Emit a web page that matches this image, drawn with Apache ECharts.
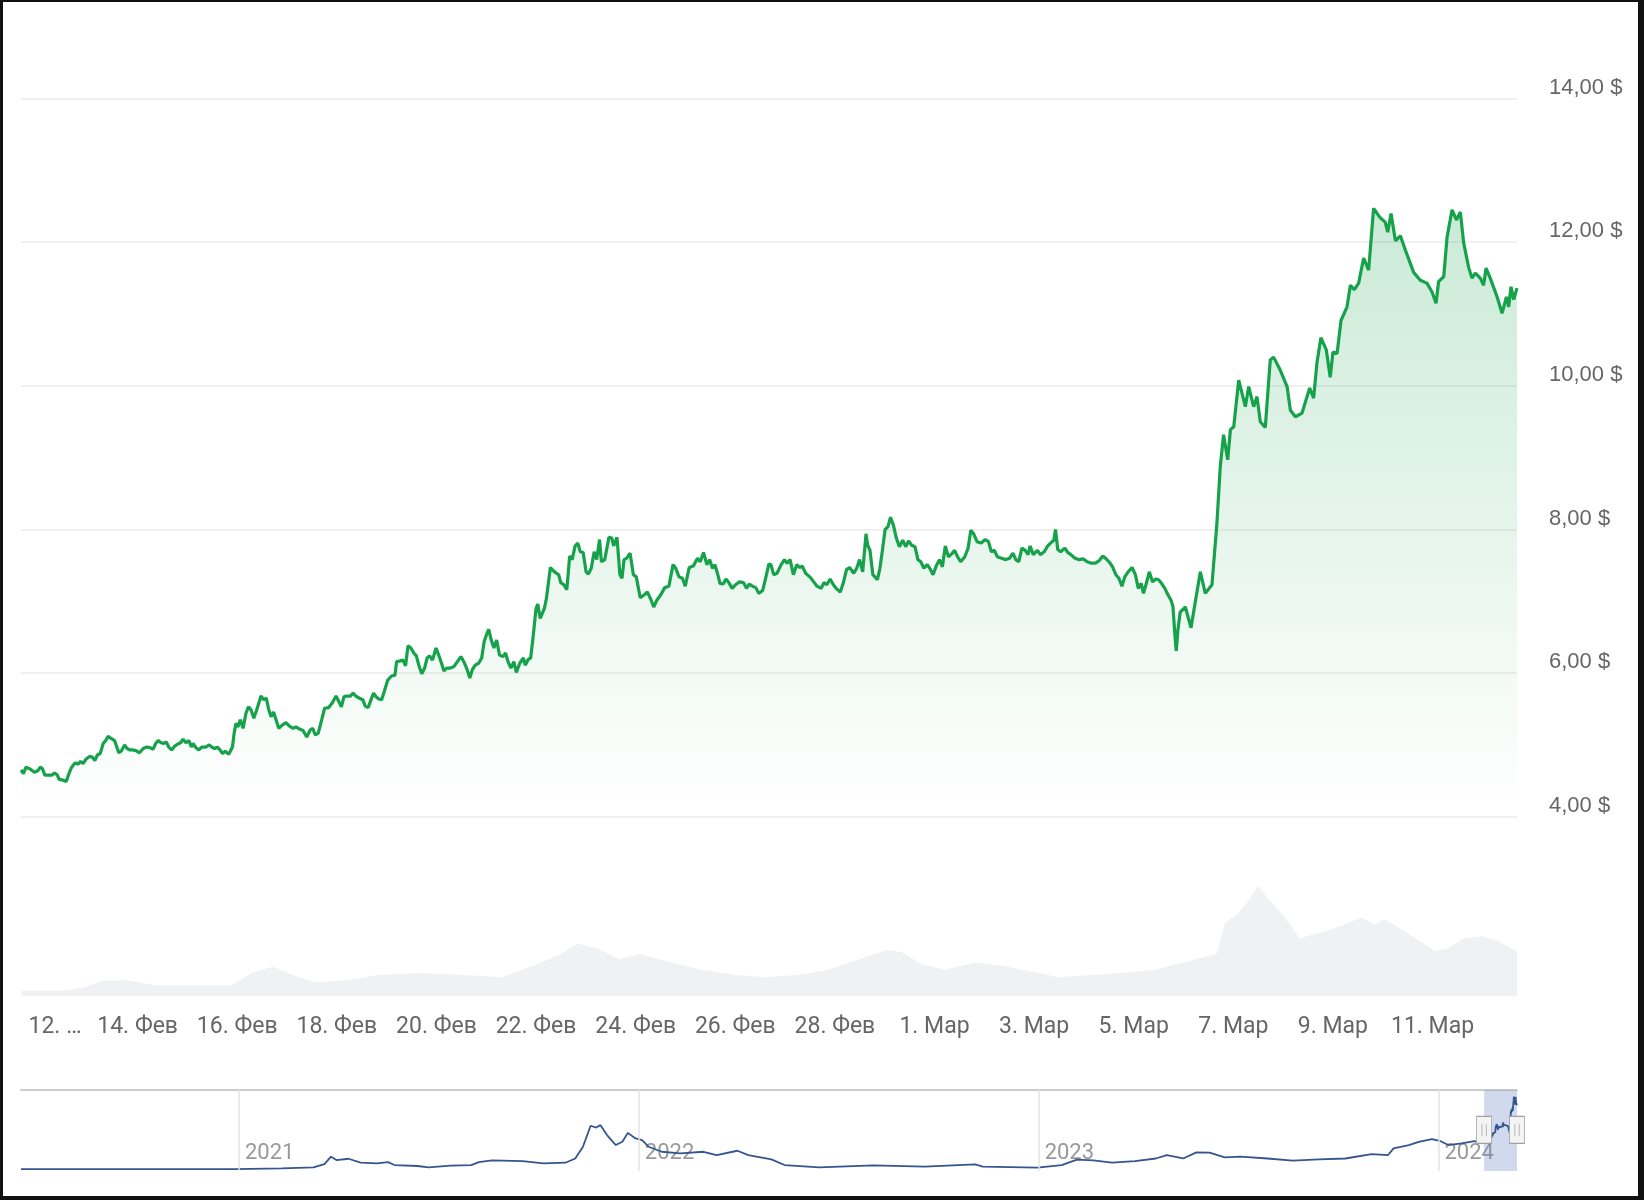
<!DOCTYPE html>
<html>
<head>
<meta charset="utf-8">
<style>
  html, body { margin: 0; padding: 0; background: #fff; }
  #chart { position: absolute; left: 0; top: 0; width: 1644px; height: 1200px; }
  #frame { position: absolute; left: 0; top: 0; width: 1644px; height: 1200px; box-sizing: border-box;
    border-style: solid; border-color: #111; border-width: 2px 6px 4px 3px; pointer-events: none; }
</style>
<script src="https://cdn.jsdelivr.net/npm/echarts@6/dist/echarts.min.js"></script>
</head>
<body>
<div id="chart"></div>
<div id="frame"></div>
<script>
// hours counted from 12 Feb 2024 00:00
var priceHours = [
  -8.2, -7.0, -5.8, -3.6, -1.8, -0.1, 1.1, 2.1, 3.3, 5.0,
  6.8, 8.0, 9.3, 10.2, 11.9, 13.6, 14.9, 16.2, 17.9, 19.3,
  20.5, 21.7, 23.1, 24.8, 26.2, 27.4, 28.6, 30.0, 31.4, 32.6,
  33.8, 35.2, 36.9, 37.7, 38.9, 40.3, 41.7, 42.9, 44.1, 45.5,
  47.2, 48.9, 50.7, 52.4, 54.1, 55.5, 56.7, 57.9, 59.3, 60.6,
  61.8, 63.0, 64.4, 65.8, 67.2, 68.7, 69.9, 71.3, 72.7, 73.9,
  74.7, 76.1, 77.5, 79.0, 80.8, 82.5, 83.7, 85.1, 86.4, 87.7,
  88.9, 90.2, 91.9, 93.7, 94.5, 95.4, 96.3, 97.5, 98.8, 100.2,
  101.4, 102.6, 104.0, 105.4, 106.6, 107.4, 108.8, 110.0, 111.2, 112.3,
  113.5, 114.7, 116.0, 117.8, 119.5, 121.2, 122.9, 124.3, 126.0, 127.7,
  129.5, 131.2, 132.4, 133.6, 135.0, 136.7, 138.1, 140.1, 141.9, 143.6,
  145.0, 146.2, 147.4, 148.8, 150.5, 151.8, 153.2, 154.8, 156.5, 157.7,
  159.1, 160.5, 161.7, 162.9, 164.2, 165.6, 166.8, 168.5, 170.3, 172.0,
  172.8, 174.6, 175.9, 177.1, 178.3, 179.7, 181.1, 182.3, 183.5, 184.9,
  186.3, 187.5, 188.7, 190.1, 191.8, 193.2, 194.4, 195.6, 196.9, 198.7,
  200.4, 202.1, 203.8, 205.5, 206.9, 208.1, 209.3, 210.7, 212.4, 213.8,
  215.0, 216.2, 217.2, 218.4, 219.7, 221.0, 222.4, 224.1, 225.3, 226.5,
  227.9, 229.3, 230.5, 232.2, 233.9, 234.8, 236.2, 237.4, 238.6, 240.0,
  240.8,
  242.0, 244.0, 245.0, 246.9, 248.9, 250.9, 251.9, 253.4, 254.8, 256.2,
  257.4, 258.8, 260.1, 261.3, 262.7, 264.1, 265.2, 266.6, 268.0, 269.2,
  270.6, 271.5, 273.1, 275.1, 276.5, 277.4, 279.0, 280.4, 281.4, 282.4,
  283.7, 285.3, 286.9, 288.3, 290.2, 292.2, 293.6, 295.1, 296.7, 298.1,
  300.1, 302.0, 304.0, 306.0, 307.3, 308.9, 310.5, 311.9, 313.8, 315.8,
  317.8, 319.1, 320.7, 322.3, 323.7, 325.0, 326.2, 327.6, 328.6, 330.2,
  331.5, 332.9, 334.5, 336.1, 338.0, 340.0, 341.4, 342.7, 344.3, 345.9,
  347.3, 349.2, 350.6, 352.2, 353.2, 354.5, 356.1, 358.1, 359.7, 361.0,
  362.4, 364.0, 365.6, 366.9, 368.3, 369.9, 371.9, 373.8, 375.4, 377.4,
  378.7, 380.1, 381.7, 383.3, 384.6, 386.6, 388.0, 389.6, 391.1, 393.1,
  394.5, 395.9, 397.4, 399.0, 399.8, 400.9, 402.3, 403.3, 404.5, 405.7,
  406.9, 408.2, 409.6, 410.8, 412.2, 413.6, 415.1, 416.7, 418.1, 419.5,
  421.0, 422.6, 424.0, 425.4, 426.9, 428.5, 429.9, 431.3, 432.8, 434.4,
  435.8, 437.2, 438.7, 440.3, 441.7, 443.1, 444.6, 446.6, 448.2, 449.5,
  450.9, 452.5, 454.5, 456.4, 458.0, 459.4, 460.8, 462.3, 464.3, 466.3,
  468.2, 469.8, 471.2, 472.6, 474.1, 475.7, 477.1, 478.1, 479.6, 481.6,
  483.0, 484.9, 486.3, 487.9, 489.5, 490.3, 491.4, 492.8, 494.8, 496.2,
  497.7, 499.7, 501.7, 503.6, 505.6, 507.6, 509.5, 511.5, 513.1, 514.4,
  516.4, 517.8, 519.4, 520.9, 522.3, 523.7, 525.3, 527.2, 528.8, 530.2,
  531.6, 532.7, 534.1, 535.5, 537.1, 538.6, 540.0, 541.4, 543.0, 544.5,
  545.9, 546.9, 547.9, 548.5, 549.3, 550.4,
  552.9, 555.6, 560.1, 562.5, 565.7, 568.1, 569.7, 571.3, 573.3, 574.6,
  576.2, 578.6, 581.8, 583.4, 585.8, 587.4, 589.0, 591.4, 593.8, 595.4,
  598.6, 601.9, 603.5, 605.9, 609.1, 612.8, 614.7, 616.3, 618.2, 620.8,
  622.7, 624.0, 626.0, 627.9, 630.8, 632.4, 634.3, 636.4, 638.8, 641.2,
  643.6, 646.8, 649.2, 650.4, 652.0, 654.1, 656.5, 658.9, 662.9, 666.1,
  669.3, 671.7, 673.7, 674.9, 677.4, 679.0, 681.4, 683.5, 685.4, 687.0,
  689.4, 691.0, 692.6, 695.0, 696.6, 697.8, 699.8, 703.1, 705.5, 707.6,
  708.7, 709.8, 711.1, 712.7
];
var prices = [
  4.65, 4.60, 4.69, 4.66, 4.62, 4.64, 4.69, 4.67, 4.58, 4.58,
  4.58, 4.61, 4.58, 4.52, 4.51, 4.49, 4.60, 4.69, 4.75, 4.73,
  4.77, 4.74, 4.80, 4.84, 4.83, 4.78, 4.86, 4.88, 5.02, 5.06,
  5.12, 5.09, 5.06, 5.04, 4.89, 4.92, 5.00, 4.95, 4.93, 4.93,
  4.92, 4.89, 4.95, 4.97, 4.96, 4.94, 5.02, 5.06, 5.03, 5.02,
  5.04, 4.97, 4.93, 4.98, 5.01, 5.03, 5.08, 5.03, 5.06, 4.97,
  5.02, 4.96, 4.93, 4.97, 4.97, 5.00, 4.97, 4.95, 4.97, 4.93,
  4.88, 4.91, 4.87, 4.97, 5.16, 5.30, 5.25, 5.35, 5.23, 5.44,
  5.53, 5.49, 5.37, 5.49, 5.60, 5.68, 5.63, 5.65, 5.49, 5.39,
  5.46, 5.35, 5.23, 5.28, 5.31, 5.26, 5.23, 5.25, 5.22, 5.20,
  5.11, 5.21, 5.23, 5.14, 5.16, 5.35, 5.51, 5.52, 5.59, 5.68,
  5.60, 5.53, 5.67, 5.68, 5.68, 5.72, 5.68, 5.65, 5.63, 5.54,
  5.52, 5.63, 5.72, 5.67, 5.64, 5.63, 5.74, 5.90, 5.96, 5.97,
  6.16, 6.17, 6.18, 6.10, 6.38, 6.35, 6.28, 6.24, 6.11, 5.99,
  6.07, 6.21, 6.24, 6.18, 6.35, 6.24, 6.14, 6.03, 6.07, 6.07,
  6.09, 6.16, 6.23, 6.14, 6.04, 5.93, 6.05, 6.11, 6.14, 6.21,
  6.44, 6.54, 6.61, 6.46, 6.35, 6.46, 6.25, 6.23, 6.28, 6.16,
  6.07, 6.16, 6.01, 6.14, 6.21, 6.11, 6.19, 6.21, 6.51, 6.90,
  6.96,
  6.76, 6.90, 7.04, 7.47, 7.41, 7.37, 7.26, 7.23, 7.16, 7.63,
  7.58, 7.77, 7.81, 7.69, 7.68, 7.41, 7.38, 7.46, 7.69, 7.58,
  7.86, 7.55, 7.58, 7.89, 7.88, 7.77, 7.89, 7.37, 7.32, 7.58,
  7.60, 7.67, 7.37, 7.34, 7.05, 7.09, 7.13, 7.04, 6.92, 7.01,
  7.09, 7.19, 7.21, 7.51, 7.46, 7.34, 7.32, 7.21, 7.47, 7.49,
  7.60, 7.55, 7.68, 7.51, 7.58, 7.46, 7.51, 7.37, 7.25, 7.24,
  7.31, 7.26, 7.18, 7.23, 7.27, 7.26, 7.18, 7.24, 7.21, 7.19,
  7.11, 7.15, 7.32, 7.52, 7.51, 7.37, 7.39, 7.51, 7.58, 7.53,
  7.58, 7.37, 7.51, 7.47, 7.49, 7.39, 7.34, 7.27, 7.21, 7.18,
  7.26, 7.23, 7.31, 7.23, 7.18, 7.13, 7.25, 7.44, 7.47, 7.39,
  7.46, 7.58, 7.41, 7.94, 7.78, 7.71, 7.37, 7.34, 7.30, 7.46,
  7.71, 8.00, 8.04, 8.17, 8.06, 7.88, 7.76, 7.85, 7.76, 7.84,
  7.78, 7.76, 7.58, 7.55, 7.46, 7.51, 7.45, 7.37, 7.49, 7.58,
  7.48, 7.77, 7.62, 7.66, 7.71, 7.62, 7.55, 7.62, 7.74, 7.99,
  7.94, 7.83, 7.81, 7.86, 7.83, 7.69, 7.71, 7.62, 7.60, 7.58,
  7.60, 7.67, 7.58, 7.55, 7.74, 7.71, 7.65, 7.77, 7.65, 7.71,
  7.65, 7.69, 7.76, 7.81, 7.85, 8.00, 7.72, 7.69, 7.74, 7.68,
  7.65, 7.60, 7.58, 7.59, 7.55, 7.53, 7.53, 7.57, 7.63, 7.60,
  7.54, 7.48, 7.37, 7.32, 7.21, 7.34, 7.41, 7.47, 7.37, 7.18,
  7.25, 7.11, 7.25, 7.41, 7.27, 7.31, 7.30, 7.25, 7.18, 7.09,
  7.02, 6.93, 6.51, 6.31, 6.60, 6.85,
  6.92, 6.63, 7.41, 7.11, 7.23, 8.09, 8.87, 9.32, 8.97, 9.39,
  9.43, 10.08, 9.71, 9.99, 9.71, 9.85, 9.50, 9.42, 10.36, 10.40,
  10.22, 9.99, 9.66, 9.57, 9.62, 9.97, 9.83, 10.32, 10.67, 10.50,
  10.12, 10.47, 10.45, 10.91, 11.10, 11.40, 11.34, 11.43, 11.78, 11.61,
  12.47, 12.34, 12.28, 12.14, 12.40, 12.02, 12.09, 11.89, 11.58, 11.47,
  11.43, 11.31, 11.15, 11.45, 11.52, 12.07, 12.45, 12.31, 12.42, 11.99,
  11.65, 11.50, 11.57, 11.50, 11.40, 11.64, 11.50, 11.24, 11.01, 11.24,
  11.10, 11.38, 11.20, 11.36
];

// trading volume (relative units)
var volumeHours = [
  -8, 12, 22, 32, 42, 58, 93, 103, 113, 123,
  133, 149, 164, 184, 204, 224, 240, 252, 260, 270,
  280, 290, 305, 320, 336, 351, 366, 381, 396, 409,
  416, 426, 437, 452, 467, 482, 492, 507, 522, 538,
  548, 558, 568, 572, 578, 583, 588, 593, 601, 608,
  613, 621, 629, 638, 644, 649, 656, 664, 673, 679,
  687, 696, 704, 713
];
var volumes = [
  5, 5, 8, 15, 15, 10, 10, 22, 28, 20,
  13, 15, 20, 22, 20, 18, 30, 40, 50, 45,
  35, 40, 32, 25, 20, 18, 20, 25, 35, 44,
  42, 30, 25, 32, 28, 22, 18, 20, 22, 25,
  30, 35, 40, 70, 78, 90, 105, 92, 75, 55,
  58, 62, 68, 75, 68, 73, 65, 55, 43, 45,
  55, 57, 52, 42
];

var tickHours = [0, 48, 96, 144, 192, 240, 288, 336, 384, 432, 480, 528, 576, 624, 672];
var tickLabels = ['12. …', '14. Фев', '16. Фев', '18. Фев', '20. Фев', '22. Фев', '24. Фев', '26. Фев',
  '28. Фев', '1. Мар', '3. Мар', '5. Мар', '7. Мар', '9. Мар', '11. Мар'];

// long-term history shown in the navigator
var historyDates = [
  '2020-06-16', '2020-12-28', '2021-02-09', '2021-03-10', '2021-03-20', '2021-03-26', '2021-03-31', '2021-04-11',
  '2021-04-22', '2021-05-07', '2021-05-17', '2021-05-23', '2021-06-13', '2021-06-23', '2021-07-13', '2021-08-01',
  '2021-08-08', '2021-08-20', '2021-09-17', '2021-10-06', '2021-10-26', '2021-11-04', '2021-11-11', '2021-11-18',
  '2021-11-23', '2021-11-27', '2021-12-03', '2021-12-11', '2021-12-17', '2021-12-22', '2021-12-29', '2022-01-04',
  '2022-01-10', '2022-01-22', '2022-02-08', '2022-03-01', '2022-03-13', '2022-04-01', '2022-04-11', '2022-05-02',
  '2022-05-14', '2022-06-15', '2022-08-03', '2022-09-19', '2022-11-04', '2022-11-11', '2022-12-31', '2023-01-22',
  '2023-02-05', '2023-02-20', '2023-03-09', '2023-03-30', '2023-04-18', '2023-04-28', '2023-05-13', '2023-05-25',
  '2023-06-06', '2023-06-20', '2023-07-04', '2023-07-29', '2023-08-21', '2023-09-14', '2023-10-08', '2023-11-01',
  '2023-11-16', '2023-11-21', '2023-12-05', '2023-12-14', '2023-12-26', '2024-01-03', '2024-01-10', '2024-01-22',
  '2024-02-03'
];
var historyPrices = [
  0.33, 0.33, 0.45, 0.62, 1.17, 2.40, 1.84, 2.06,
  1.39, 1.28, 1.50, 1.00, 0.84, 0.62, 0.90, 1.00,
  1.50, 1.78, 1.67, 1.28, 1.39, 2.10, 4.07, 7.60,
  7.30, 7.70, 6.03, 4.36, 4.90, 6.40, 5.47, 5.20,
  4.07, 3.23, 2.95, 3.23, 2.68, 3.40, 2.68, 1.95,
  1.00, 0.62, 0.95, 0.73, 1.10, 0.73, 0.56, 1.00,
  1.90, 1.80, 1.39, 1.67, 2.10, 2.68, 2.10, 3.12,
  3.07, 2.29, 2.40, 2.10, 1.73, 1.95, 2.10, 2.85,
  2.68, 3.80, 4.36, 4.90, 5.36, 5.00, 4.36, 4.63,
  5.00
];
var yearTicks = ['2021-01-01', '2022-01-01', '2023-01-01', '2024-01-01'];
var yearLabels = ['2021', '2022', '2023', '2024'];

(function () {
  var DAY = 24 * 3600 * 1000;
  var origin = Date.parse('2021-01-01T00:00:00Z');
  var base = Date.parse('2024-02-12T00:00:00Z');
  // navigator works in days since 2021-01-01
  function dayOf(dateStr) { return (Date.parse(dateStr + 'T00:00:00Z') - origin) / DAY; }
  var baseDay = (base - origin) / DAY;

  var priceData = priceHours.map(function (h, i) { return [h, prices[i]]; });
  var volumeData = volumeHours.map(function (h, i) { return [h, volumes[i]]; });
  var yearDays = yearTicks.map(dayOf);
  var navData = historyDates.map(function (d, i) { return [dayOf(d), historyPrices[i]]; })
    .concat(priceHours.map(function (h, i) { return [baseDay + h / 24, prices[i]]; }));

  var xMin = priceHours[0];
  var xMax = priceHours[priceHours.length - 1];
  var navMin = navData[0][0];
  var navMax = navData[navData.length - 1][0];
  var selStart = baseDay + xMin / 24;

  var green = '#16a24a';
  var labelGray = '#666666';

  var chart = echarts.init(document.getElementById('chart'), null, { renderer: 'canvas' });
  chart.setOption({
    animation: false,
    backgroundColor: '#ffffff',
    grid: [
      { left: 21, right: 127, top: 98.6, height: 718.1 },
      { left: 21, right: 127, top: 886, height: 110 },
      { left: 21, right: 127, top: 1090, height: 81 }
    ],
    xAxis: [
      {
        gridIndex: 0, type: 'value', min: xMin, max: xMax,
        axisLine: { show: false }, axisTick: { show: false },
        axisLabel: { show: false }, splitLine: { show: false }
      },
      {
        gridIndex: 1, type: 'value', min: xMin, max: xMax,
        axisLine: { show: false }, axisTick: { show: false }, splitLine: { show: false },
        axisLabel: {
          customValues: tickHours,
          color: labelGray, fontSize: 23, fontFamily: 'Roboto', margin: 20,
          formatter: function (v) {
            var i = tickHours.indexOf(v);
            if (i < 0) return '';
            return i === 0 ? '{first|' + tickLabels[0] + '}' : tickLabels[i];
          },
          rich: {
            first: { padding: [0, 0, 0, 34], fontSize: 23, fontFamily: 'Roboto', color: labelGray }
          }
        }
      },
      {
        gridIndex: 2, type: 'value', min: navMin, max: navMax,
        axisLine: { show: false }, axisTick: { show: false }, splitLine: { show: false },
        axisLabel: {
          customValues: yearDays,
          inside: true, align: 'left', padding: [0, 0, 0, 6], margin: 7,
          color: '#999999', fontSize: 22, fontFamily: 'Roboto',
          formatter: function (v) {
            var i = yearDays.indexOf(v);
            return i < 0 ? '' : yearLabels[i];
          }
        }
      },
      {
        gridIndex: 2, type: 'value', position: 'top', min: navMin, max: navMax,
        axisLine: { show: true, lineStyle: { color: '#cccccc', width: 2 } },
        axisTick: { show: false }, axisLabel: { show: false }, splitLine: { show: false }
      }
    ],
    yAxis: [
      {
        gridIndex: 0, type: 'value', position: 'right', min: 4, max: 14, interval: 2,
        axisLine: { show: false }, axisTick: { show: false },
        splitLine: { lineStyle: { color: '#ebebeb', width: 1.5 } },
        axisLabel: {
          color: labelGray, fontSize: 22, fontFamily: 'Liberation Sans',
          align: 'left', verticalAlign: 'bottom', margin: 32, padding: [0, 0, 0, 0],
          formatter: function (v) { return v.toFixed(2).replace('.', ',') + ' $'; }
        }
      },
      { gridIndex: 1, type: 'value', min: 0, max: 105, show: false },
      { gridIndex: 2, type: 'value', min: 0, max: 13.6, show: false }
    ],
    series: [
      {
        name: 'volume', type: 'line', xAxisIndex: 1, yAxisIndex: 1,
        data: volumeData, showSymbol: false, silent: true,
        lineStyle: { width: 0 },
        areaStyle: { color: '#f0f1f2', opacity: 1 }
      },
      {
        name: 'price', type: 'line', xAxisIndex: 0, yAxisIndex: 0,
        data: priceData, showSymbol: false,
        lineStyle: { color: green, width: 3.2 },
        areaStyle: {
          color: new echarts.graphic.LinearGradient(0, 0, 0, 1, [
            { offset: 0, color: 'rgba(22,162,74,0.32)' },
            { offset: 1, color: 'rgba(22,162,74,0)' }
          ])
        }
      },
      {
        name: 'navigator', type: 'line', xAxisIndex: 2, yAxisIndex: 2,
        data: navData, showSymbol: false, silent: true,
        lineStyle: { color: '#34558f', width: 1.8 },
        markLine: {
          silent: true, symbol: ['none', 'none'], label: { show: false },
          lineStyle: { color: '#e3e3e3', width: 1.5, type: 'solid' },
          data: yearDays.map(function (v) { return { xAxis: v }; })
        },
        markArea: {
          silent: true,
          itemStyle: { color: 'rgba(102,133,194,0.3)' },
          data: [[{ xAxis: selStart }, { xAxis: navMax }]]
        },
        markPoint: {
          silent: true,
          symbol: 'path://M0,0H14V26H0Z M5,7V19 M9,7V19',
          symbolSize: [15, 27],
          itemStyle: { color: '#f4f4f4', borderColor: '#a0a0a0', borderWidth: 1 },
          label: { show: false },
          data: [{ coord: [selStart, 6.9] }, { coord: [navMax, 6.9] }]
        }
      }
    ]
  });
  window.addEventListener('resize', function () { chart.resize(); });
})();
</script>
</body>
</html>
